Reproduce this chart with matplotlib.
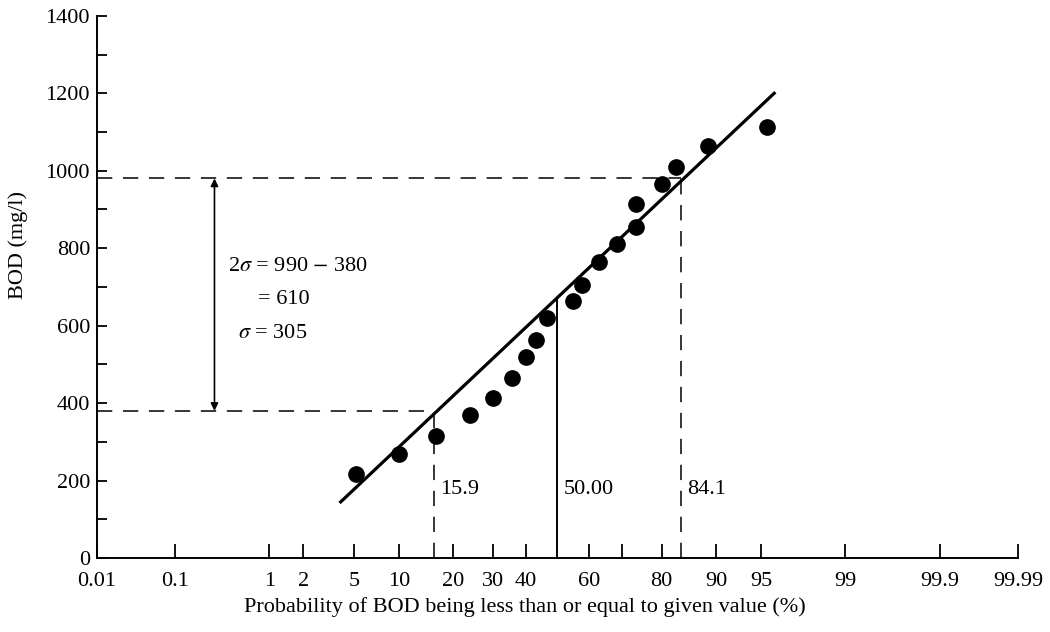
import numpy as np
import matplotlib
matplotlib.use("Agg")
import matplotlib.pyplot as plt
from matplotlib.ticker import MultipleLocator
from statistics import NormalDist

# data (plotting position %, BOD mg/l)
prob = [5.2, 10, 16.3, 23.9, 30, 35.6, 40, 43, 46.6, 55, 58, 63, 68.6, 73.6, 73.8, 80, 83, 88.8, 95.5]
bod = [217, 269, 315, 370, 413, 465, 519, 563, 620, 664, 705, 765, 811, 855, 915, 966, 1010, 1065, 1114]

# fitted straight line (end points)
fit_prob = [4, 96]
fit_bod = [145, 1200]

# reading lines
p_lo, p_mid, p_hi = 15.9, 50.0, 84.1
bod_lo, bod_mid, bod_hi = 380, 668, 980

xtick_vals = [0.01, 0.1, 1, 2, 5, 10, 20, 30, 40, 60, 70, 80, 90, 95, 99, 99.9, 99.99]
xtick_labels = ['0.01', '0.1', '1', '2', '5', '10', '20', '30', '40', '60', '', '80', '90', '95', '99', '99.9', '99.99']

nd = NormalDist()

#probability scale: percent -> standard normal quantile
_q = np.vectorize(lambda v: nd.inv_cdf(v / 100.0), otypes=[float])
_c = np.vectorize(lambda v: nd.cdf(v) * 100.0, otypes=[float])

def fwd(p):
    p = np.clip(np.asarray(p, dtype=float), 1e-7, 100 - 1e-7)
    return _q(p)

def inv(z):
    return _c(np.asarray(z, dtype=float))

plt.rcParams['font.family'] = ['Liberation Serif', 'DejaVu Serif']
plt.rcParams['mathtext.fontset'] = 'stix'
fs = 16

fig = plt.figure(figsize=(10.5, 6.32), dpi=100)
ax = fig.add_axes([0.0924, 0.117, 0.877, 0.858])
ax.set_xscale('function', functions=(fwd, inv))
ax.set_xlim(0.01, 99.99)
ax.set_ylim(0, 1400)

#fit line and data
ax.plot(fit_prob, fit_bod, color='black', lw=2.3)
ax.plot(prob, bod, 'o', color='black', ms=11)

dash = (10, 7)
#dashed horizontals
ax.plot([0.01, p_lo], [bod_lo, bod_lo], color='black', lw=1.1, dashes=dash)
ax.plot([0.01, p_hi], [bod_hi, bod_hi], color='black', lw=1.1, dashes=dash)
#verticals
ax.plot([p_lo, p_lo], [0, bod_lo], color='black', lw=1.1, dashes=dash)
ax.plot([p_hi, p_hi], [0, bod_hi], color='black', lw=1.1, dashes=dash)
ax.plot([p_mid, p_mid], [0, bod_mid], color='black', lw=1.4)

#double arrow for 2 sigma
ax.annotate('', xy=(0.28, bod_hi), xytext=(0.28, bod_lo),
            arrowprops=dict(arrowstyle='<|-|>', color='black', lw=1.2,
                            mutation_scale=11, shrinkA=0, shrinkB=0))
ax.text(0.39, 752, r'2$\sigma$ = 990 $-$ 380', fontsize=fs, va='center', ha='left')
ax.text(0.78, 667, '= 610', fontsize=fs, va='center', ha='left')
ax.text(0.495, 581, r'$\sigma$ = 305', fontsize=fs, va='center', ha='left')

for p, s in [(p_lo, '15.9'), (p_mid, '50.00'), (p_hi, '84.1')]:
    ax.annotate(s, xy=(p, 176), xytext=(4.5, 0), textcoords='offset points',
                fontsize=fs, va='center', ha='left')

ax.set_xticks(xtick_vals)
ax.set_xticklabels(xtick_labels)
ax.xaxis.set_minor_locator(plt.NullLocator())
ax.set_yticks(np.arange(0, 1401, 200))
ax.yaxis.set_minor_locator(MultipleLocator(100))
ax.tick_params(axis='x', direction='in', length=10, width=1.3, labelsize=fs, pad=10)
ax.tick_params(axis='y', which='both', direction='in', length=7, width=1.3, labelsize=fs, pad=5)

for side in ['top', 'right']:
    ax.spines[side].set_visible(False)
for side in ['left', 'bottom']:
    ax.spines[side].set_linewidth(1.4)

ax.set_xlabel('Probability of BOD being less than or equal to given value (%)', fontsize=fs)
ax.set_ylabel('BOD (mg/l)', fontsize=fs)
ax.xaxis.set_label_coords(0.4647, -0.072)
ax.yaxis.set_label_coords(-0.075, 0.5775)

fig.savefig('out.png', dpi=100)
